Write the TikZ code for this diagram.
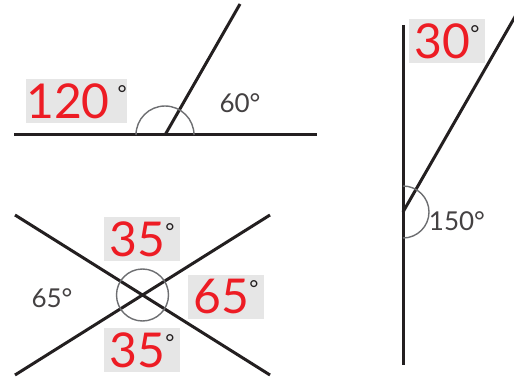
\documentclass[tikz,border=0pt]{standalone}
\usepackage{fontspec}
\setmainfont{Lato}

\definecolor{lblred}{HTML}{ED1C24}
\definecolor{lblbox}{HTML}{E6E6E6}
\definecolor{ink}{HTML}{231F20}
\definecolor{arcgray}{HTML}{6D6E71}

\newcommand*{\bigdeg}[1]{\textcolor{lblred}{#1}\raisebox{17pt}{\fontsize{22}{22}\selectfont\color{ink}°}}

\begin{document}
\begin{tikzpicture}
[
	x=1pt,y=-1pt,
	ray/.style={draw=ink,line width=3pt},
	anglearc/.style={draw=arcgray,line width=1.4pt},
	smalllbl/.style={text=ink!85,font=\fontsize{26}{26}\selectfont,inner sep=0pt},
	redbox/.style={fill=lblbox,inner sep=0pt,minimum width=76,minimum height=44,font=\fontsize{48}{48}\selectfont}
]
	\useasboundingbox (0,0) rectangle (514,377);

	% straight angle
	\coordinate (a) at (14,135);
	\coordinate (b) at (317,135);
	\coordinate (v1) at (165,135);
	\coordinate (t1) at (240,4);
	\draw[ray] (a) -- (b);
	\draw[ray] (v1) -- (t1);
	\draw[anglearc] (v1) ++(29,0) arc[start angle=0,end angle=-180,radius=29];

	\node[redbox,minimum width=99] at (76.5,101) (l120) {\textcolor{lblred}{120}\,\raisebox{17pt}{\fontsize{22}{22}\selectfont\color{ink}°}};
	\node[smalllbl] at (240,103) (l60) {60°};

	% crossing lines
	\coordinate (p1) at (15,215);
	\coordinate (p2) at (270,375);
	\coordinate (q1) at (15,375);
	\coordinate (q2) at (270,215);
	\coordinate (ctr) at (142.5,295);
	\draw[ray] (p1) -- (p2);
	\draw[ray] (q1) -- (q2);
	\draw[anglearc] (ctr) circle[radius=26];

	\node[redbox] at (142,239) (top35) {\bigdeg{35}};
	\node[redbox] at (226,296.5) (right65) {\bigdeg{65}};
	\node[redbox] at (142,350) (bot35) {\bigdeg{35}};
	\node[smalllbl] at (52,298) (left65) {65°};

	% right angle
	\coordinate (u1) at (403,25);
	\coordinate (u2) at (403,365);
	\coordinate (v3) at (403,212);
	\coordinate (t3) at (520,8);
	\draw[ray] (u1) -- (u2);
	\draw[ray] (v3) -- (t3);
	\draw[anglearc] (v3) ++(0,-26) arc[start angle=-90,end angle=90,radius=26];

	\node[redbox] at (447,41.5) (top30) {\bigdeg{30}};
	\node[smalllbl] at (457,221) (l150) {150°};

\end{tikzpicture}
\end{document}
